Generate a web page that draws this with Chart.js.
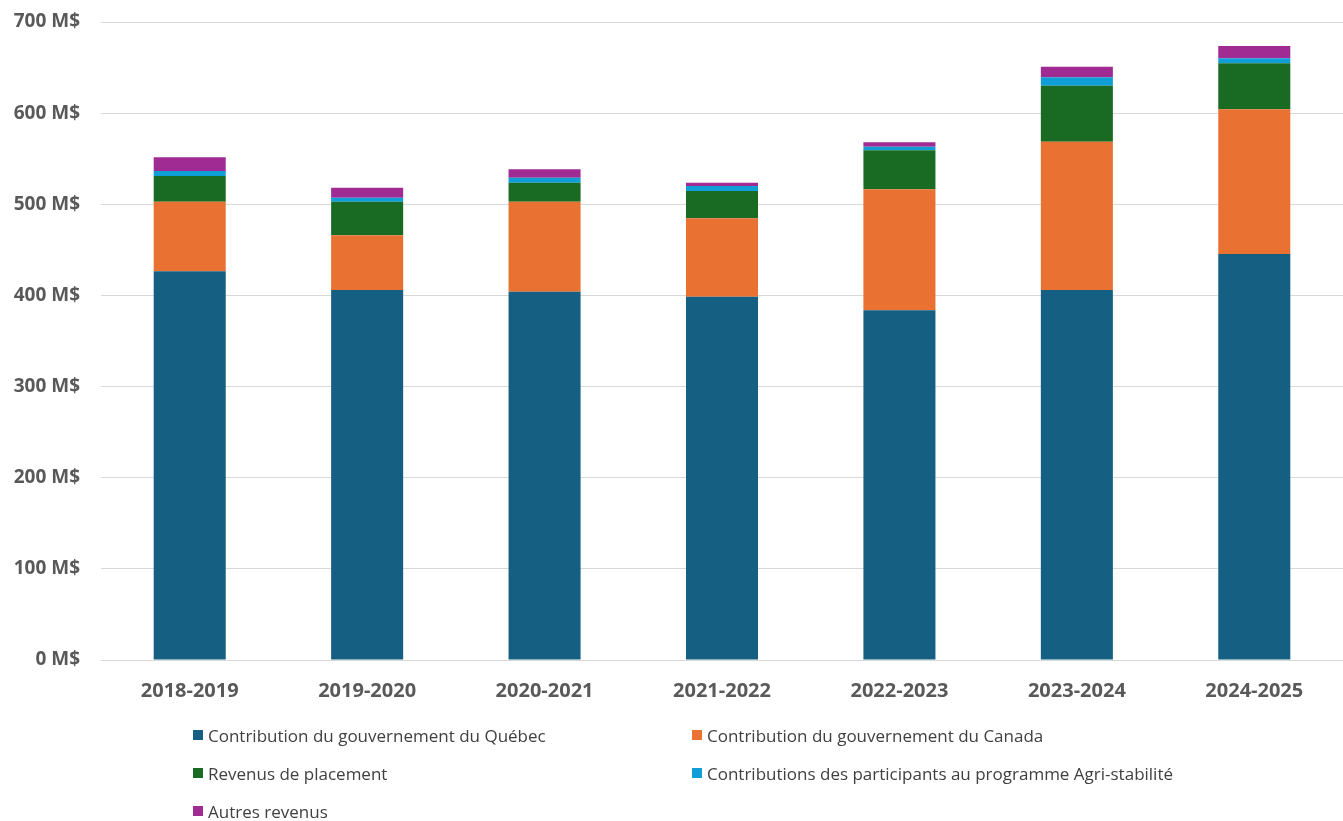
<!DOCTYPE html>
<html>
<head>
<meta charset="utf-8">
<script src="https://cdn.jsdelivr.net/npm/chart.js@4.4.1/dist/chart.umd.min.js"></script>
<style>
  html, body { margin: 0; padding: 0; background: #fff; }
  #wrap { position: relative; width: 1343px; height: 821px; }
  #legend { position: absolute; left: 0; top: 0; width: 1343px; height: 821px; pointer-events: none;
    font-family: "Open Sans", sans-serif; font-size: 17px; color: #404040; }
  .item { position: absolute; display: flex; align-items: center; white-space: nowrap; }
  .sw { width: 10px; height: 10px; margin-right: 5px; }
</style>
</head>
<body>
<div id="wrap">
  <canvas id="c" width="1343" height="821"></canvas>
  <div id="legend"></div>
</div>
<script>
const categories = ["2018-2019", "2019-2020", "2020-2021", "2021-2022", "2022-2023", "2023-2024", "2024-2025"];
const seriesNames = [
  "Contribution du gouvernement du Québec",
  "Contribution du gouvernement du Canada",
  "Revenus de placement",
  "Contributions des participants au programme Agri-stabilité",
  "Autres revenus"
];
const quebec      = [426.5, 406.0, 404.1, 398.6, 383.7, 406.0, 445.5];
const canada      = [76.3, 60.0, 98.7, 86.0, 132.7, 162.7, 158.7];
const placement   = [28.2, 36.8, 20.9, 30.0, 42.8, 61.4, 50.5];
const agriStab    = [5.5, 4.4, 5.5, 5.5, 4.0, 9.2, 5.5];
const autres      = [15.1, 11.0, 9.2, 3.6, 4.8, 11.7, 13.5];
const yTicks = [0, 100, 200, 300, 400, 500, 600, 700];

const colors = ["#156082", "#E97132", "#196B24", "#0F9ED5", "#A02B93"];
const values = [quebec, canada, placement, agriStab, autres];

const datasets = seriesNames.map((n, i) => ({
  label: n,
  data: values[i],
  backgroundColor: colors[i],
  borderWidth: 0,
  barPercentage: 0.406,
  categoryPercentage: 1.0
}));

new Chart(document.getElementById("c"), {
  type: "bar",
  data: { labels: categories, datasets },
  options: {
    responsive: false,
    animation: false,
    layout: { padding: { left: 0, right: 0, top: 22, bottom: 0 } },
    plugins: { legend: { display: false }, tooltip: { enabled: false } },
    scales: {
      x: {
        stacked: true,
        grid: { display: false, drawTicks: false },
        border: { display: true, color: "#d9d9d9", width: 1 },
        ticks: { color: "#595959", font: { family: "Open Sans", size: 20, weight: "bold" }, padding: 19 },
        afterFit: s => { s.height = 161; }
      },
      y: {
        stacked: true,
        min: 0, max: 700,
        afterBuildTicks: s => { s.ticks = yTicks.map(v => ({ value: v })); },
        grid: { color: "#d9d9d9", lineWidth: 1, drawTicks: true, tickLength: 21, tickColor: "rgba(0,0,0,0)" },
        border: { display: false },
        ticks: {
          color: "#595959",
          font: { family: "Open Sans", size: 19, weight: "bold" },
          padding: 0,
          callback: v => v + " M$"
        },
        afterFit: s => { s.width = 101; }
      }
    }
  }
});

const legendPos = [[193, 735], [692, 735], [193, 773], [692, 773], [193, 811]];
const lg = document.getElementById("legend");
seriesNames.forEach((n, i) => {
  const d = document.createElement("div");
  d.className = "item";
  d.style.left = legendPos[i][0] + "px";
  d.style.top = (legendPos[i][1] - 11) + "px";
  d.style.height = "22px";
  d.innerHTML = '<span class="sw" style="background:' + colors[i] + '"></span><span>' + n + '</span>';
  lg.appendChild(d);
});
</script>
</body>
</html>
